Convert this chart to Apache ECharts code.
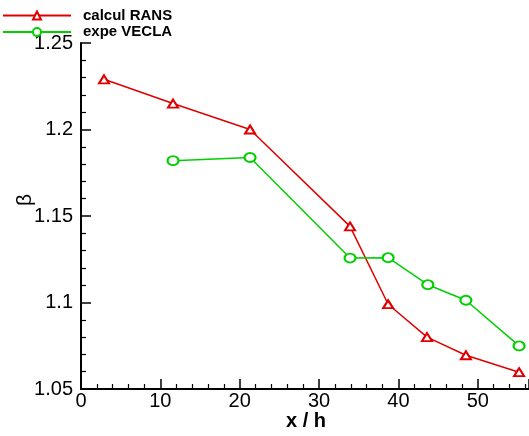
<!DOCTYPE html>
<html>
<head>
<meta charset="utf-8">
<script src="https://cdn.jsdelivr.net/npm/echarts@6/dist/echarts.min.js"></script>
<style>
html,body{margin:0;padding:0;background:#fff;}
#chart{width:529px;height:436px;}
</style>
</head>
<body>
<div id="chart"></div>
<script>
// Data
var ransX = [2.9, 11.6, 21.3, 33.9, 38.7, 43.6, 48.5, 55.2];
var ransY = [1.229, 1.215, 1.200, 1.144, 1.099, 1.080, 1.0695, 1.0597];
var veclaX = [11.6, 21.3, 33.9, 38.7, 43.7, 48.5, 55.2];
var veclaY = [1.182, 1.1838, 1.1257, 1.1259, 1.1103, 1.1013, 1.0749];
var seriesNames = ['calcul RANS', 'expe VECLA'];
var xTitle = 'x / h';
var yTitle = 'β';
var xTicks = [0, 10, 20, 30, 40, 50];
var yTicks = [1.05, 1.1, 1.15, 1.2, 1.25];

function pairs(xs, ys) {
  var out = [];
  for (var i = 0; i < xs.length; i++) out.push([xs[i], ys[i]]);
  return out;
}

var chart = echarts.init(document.getElementById('chart'));
var axisFont = 'Liberation Sans, Arial, sans-serif';
chart.setOption({
  animation: false,
  backgroundColor: '#ffffff',
  grid: {left: 81, right: 0, top: 43, bottom: 47, containLabel: false},
  legend: {
    orient: 'vertical', left: 2, top: 8, padding: 0,
    itemWidth: 68, itemHeight: 10, itemGap: 1.6,
    textStyle: {fontFamily: axisFont, fontWeight: 'bold', fontSize: 15, color: '#000', padding: [0, 0, 0, 7]},
    data: seriesNames
  },
  xAxis: {
    type: 'value', min: 0, max: 56.45, interval: 10,
    axisLine: {show: true, lineStyle: {color: '#000', width: 2}},
    axisTick: {show: true, inside: true, length: 10, lineStyle: {color: '#000', width: 1.5}},
    minorTick: {show: true, splitNumber: 5, length: 5, lineStyle: {color: '#000', width: 1.2}},
    splitLine: {show: false},
    axisLabel: {
      margin: 2, fontFamily: axisFont, fontSize: 20, color: '#000',
      showMaxLabel: false,
      formatter: function (v) { return xTicks.indexOf(v) >= 0 ? String(v) : ''; }
    }
  },
  yAxis: {
    type: 'value', min: 1.05, max: 1.25, interval: 0.05,
    axisLine: {show: true, lineStyle: {color: '#000', width: 2}},
    axisTick: {show: true, inside: true, length: 10, lineStyle: {color: '#000', width: 1.5}},
    minorTick: {show: true, splitNumber: 5, length: 5, lineStyle: {color: '#000', width: 1.2}},
    splitLine: {show: false},
    axisLabel: {
      margin: 8, fontFamily: axisFont, fontSize: 20, color: '#000',
      formatter: function (v) {
        for (var i = 0; i < yTicks.length; i++) if (Math.abs(yTicks[i] - v) < 1e-6) return String(yTicks[i]);
        return '';
      }
    }
  },
  graphic: [
    {type: 'text', x: 306, y: 421, style: {text: xTitle, font: 'bold 20px Liberation Sans, Arial, sans-serif', fill: '#000', align: 'center', verticalAlign: 'middle'}},
    {type: 'text', x: 25, y: 200, rotation: Math.PI / 2, style: {text: yTitle, font: '21px Liberation Sans, Arial, sans-serif', fill: '#000', align: 'center', verticalAlign: 'middle'}}
  ],
  series: [
    {
      name: seriesNames[0], type: 'line', data: pairs(ransX, ransY),
      symbol: 'emptyTriangle', symbolSize: [10, 8],
      lineStyle: {color: '#e00000', width: 1.5},
      itemStyle: {color: '#e00000', borderWidth: 1.5}
    },
    {
      name: seriesNames[1], type: 'line', data: pairs(veclaX, veclaY),
      symbol: 'emptyCircle', symbolSize: [11, 9],
      lineStyle: {color: '#00d000', width: 1.5},
      itemStyle: {color: '#00d000', borderWidth: 1.5}
    }
  ]
});
</script>
</body>
</html>
